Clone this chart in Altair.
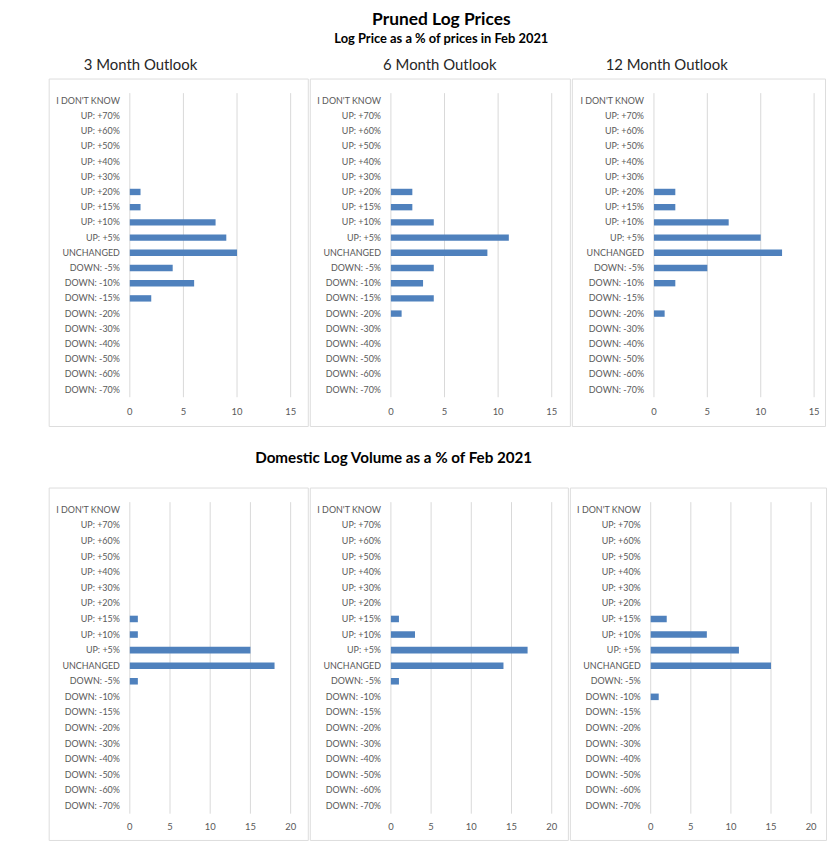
import altair as alt
import pandas as pd

CATS = ["I DON'T KNOW", "UP: +70%", "UP: +60%", "UP: +50%", "UP: +40%", "UP: +30%",
        "UP: +20%", "UP: +15%", "UP: +10%", "UP: +5%", "UNCHANGED", "DOWN: -5%",
        "DOWN: -10%", "DOWN: -15%", "DOWN: -20%", "DOWN: -30%", "DOWN: -40%",
        "DOWN: -50%", "DOWN: -60%", "DOWN: -70%"]

#            IDK 70 60 50 40 30 20 15 10  5  U  -5 -10 -15 -20 -30 -40 -50 -60 -70
PRICE_3M  = [0, 0, 0, 0, 0, 0, 1, 1, 8, 9, 10, 4, 6, 2, 0, 0, 0, 0, 0, 0]
PRICE_6M  = [0, 0, 0, 0, 0, 0, 2, 2, 4, 11, 9, 4, 3, 4, 1, 0, 0, 0, 0, 0]
PRICE_12M = [0, 0, 0, 0, 0, 0, 2, 2, 7, 10, 12, 5, 2, 0, 1, 0, 0, 0, 0, 0]
VOL_3M    = [0, 0, 0, 0, 0, 0, 0, 1, 1, 15, 18, 1, 0, 0, 0, 0, 0, 0, 0, 0]
VOL_6M    = [0, 0, 0, 0, 0, 0, 0, 1, 3, 17, 14, 1, 0, 0, 0, 0, 0, 0, 0, 0]
VOL_12M   = [0, 0, 0, 0, 0, 0, 0, 2, 7, 11, 15, 0, 1, 0, 0, 0, 0, 0, 0, 0]

PRICE_TICKS = [0, 5, 10, 15]
VOL_TICKS = [0, 5, 10, 15, 20]

TITLE = "Pruned Log Prices"
SUBTITLE = "Log Price as a % of prices in Feb 2021"
VOL_TITLE = "Domestic Log Volume as a % of Feb 2021"
PANEL_TITLES = ["3 Month Outlook", "6 Month Outlook", "12 Month Outlook"]

FONT = "Lato"
BLUE = "#4f81bd"
GRAY = "#595959"
GRID = "#d9d9d9"


def panel(vals, ticks, W, H, x0, x1, y0, y1, lab_y, title=None, tdx=0):
    df = pd.DataFrame({"cat": CATS, "n": vals})
    gdf = pd.DataFrame({"t": ticks})
    xs = alt.Scale(domain=[0, max(ticks)], range=[x0, x1], nice=False, zero=True)
    ys = alt.Scale(domain=CATS, range=[y0, y1], paddingInner=0.58, paddingOuter=0.29)
    grid = alt.Chart(gdf).mark_rule(color=GRID, strokeWidth=1).encode(
        x=alt.X("t:Q", scale=xs, axis=None),
        y=alt.value(y0), y2=alt.value(y1))
    xlabels = alt.Chart(gdf).mark_text(
        font=FONT, fontSize=9.5, color=GRAY, align="center", baseline="middle").encode(
        x=alt.X("t:Q", scale=xs, axis=None),
        y=alt.value(lab_y),
        text="t:Q")
    ylabels = alt.Chart(df).mark_text(
        font=FONT, fontSize=9, color=GRAY, align="right", baseline="middle").encode(
        y=alt.Y("cat:N", sort=CATS, scale=ys, axis=None),
        x=alt.value(x0 - 10),
        text="cat:N")
    bars = alt.Chart(df).mark_bar(color=BLUE).encode(
        x=alt.X("n:Q", scale=xs, axis=None),
        y=alt.Y("cat:N", sort=CATS, scale=ys, axis=None),
        tooltip=["cat:N", "n:Q"])
    ch = alt.layer(grid, bars, ylabels, xlabels).properties(width=W, height=H)
    if title:
        ch = ch.properties(title=alt.TitleParams(
            title, dx=tdx, anchor="middle", frame="group", fontSize=15, font=FONT,
            fontWeight="normal", color="#262626", offset=6))
    return ch


p1 = panel(PRICE_3M, PRICE_TICKS, 261, 350, 81.7, 243.7, 14.7, 321, 335.7, PANEL_TITLES[0], -38)
p2 = panel(PRICE_6M, PRICE_TICKS, 262, 350, 81.7, 243.7, 14.7, 321, 335.7, PANEL_TITLES[1], 0)
p3 = panel(PRICE_12M, PRICE_TICKS, 255, 350, 82.7, 244.0, 14.7, 321, 335.7, PANEL_TITLES[2], -32)

q1 = panel(VOL_3M, VOL_TICKS, 261, 355, 81.7, 243.7, 14.7, 328.5, 342)
q2 = panel(VOL_6M, VOL_TICKS, 260, 355, 81.7, 243.7, 14.7, 328.5, 342)
q3 = panel(VOL_12M, VOL_TICKS, 258, 355, 81.4, 243.0, 14.7, 328.5, 342)

row1 = alt.hconcat(p1, p2, p3, spacing=0)
row2 = alt.hconcat(q1, q2, q3, spacing=0).properties(
    title=alt.TitleParams(VOL_TITLE, dx=-44, anchor="middle",
                          fontSize=15.3, font=FONT, fontWeight="bold", color="#000000",
                          offset=21))

chart = alt.vconcat(row1, row2, spacing=24).properties(
    title=alt.TitleParams(TITLE, subtitle=SUBTITLE, dx=4, anchor="middle",
                          fontSize=17.5, font=FONT, fontWeight="bold", color="#000000",
                          subtitleFont=FONT, subtitleFontSize=13,
                          subtitleFontWeight="bold", subtitleColor="#000000",
                          subtitlePadding=5, offset=11),
    padding={"left": 40, "top": 0, "right": 0, "bottom": 0},
).configure_view(stroke=GRID, strokeWidth=1).configure(background="white")

chart.save("out.html", embed_options={"renderer": "svg", "actions": False})
